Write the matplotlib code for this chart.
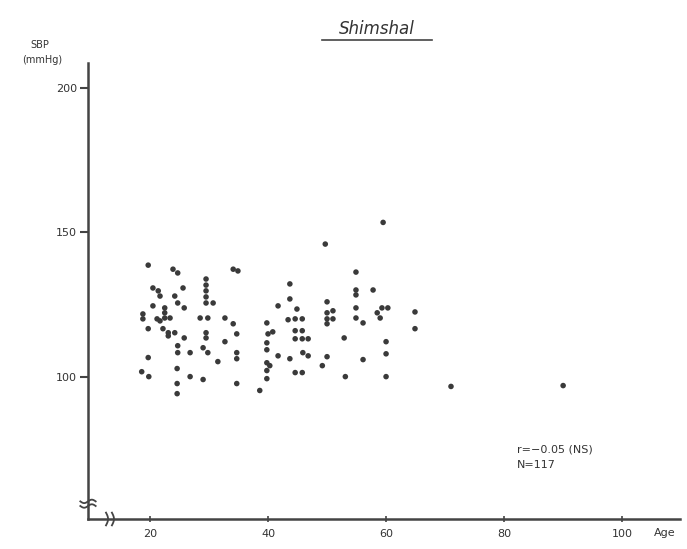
import matplotlib.pyplot as plt
import numpy as np

# age (years) and systolic blood pressure (mmHg)
age = [19.7, 20.5, 21.4, 21.7, 20.5, 18.8, 18.8, 19.7, 19.7, 18.6, 19.8,
       23.9, 24.7, 25.6, 24.2, 24.7, 25.8, 22.5, 22.5, 21.2, 21.7, 22.5,
       22.2, 23.1, 24.2, 23.1, 25.8, 24.7, 24.7, 26.8, 24.6, 26.8, 24.6, 24.6,
       29.5, 29.5, 29.5, 29.5, 29.5, 30.7, 28.5, 29.8, 32.7, 34.1, 29.5, 29.5,
       32.7, 29.0, 29.8, 31.5, 29.0,
       34.1, 34.9, 34.7, 34.7, 34.7, 34.7,
       38.6, 39.8, 40.0, 40.8, 39.8, 39.8, 39.8, 40.3, 39.8, 39.8, 41.7, 41.7,
       43.7, 43.7, 44.9, 43.4, 44.6, 45.8, 44.6, 45.8, 44.6, 45.8, 46.8, 43.7,
       45.9, 46.8, 44.6, 45.8,
       49.7, 50.0, 50.0, 50.0, 50.0, 51.0, 51.0, 50.0, 49.2,
       52.9, 53.1, 54.9, 54.9, 54.9, 54.9, 54.9, 56.1, 56.1, 57.8,
       59.5, 58.5, 59.3, 60.3, 59.0, 60.0, 60.0, 60.0,
       64.9, 64.9, 71.0, 90.0, 23.4]
sbp = [138.6, 130.7, 129.7, 127.9, 124.5, 121.7, 120.0, 116.6, 106.6, 101.7, 100.0,
       137.2, 135.9, 130.7, 127.9, 125.5, 123.8, 123.8, 122.1, 120.0, 119.3, 120.3,
       116.6, 115.2, 115.2, 114.1, 113.4, 110.7, 108.3, 108.3, 102.8, 100.0, 97.6, 94.1,
       133.8, 131.7, 129.7, 127.6, 125.5, 125.5, 120.3, 120.3, 120.3, 118.3, 115.2, 113.4,
       112.1, 110.0, 108.3, 105.2, 99.0,
       137.2, 136.6, 114.8, 108.3, 106.2, 97.6,
       95.2, 118.6, 114.8, 115.5, 111.7, 109.3, 104.8, 103.8, 102.1, 99.3, 124.5, 107.2,
       132.1, 126.9, 123.4, 119.7, 120.0, 120.0, 115.9, 115.9, 113.1, 113.1, 113.1, 106.2,
       108.3, 107.2, 101.4, 101.4,
       145.9, 125.9, 122.1, 120.0, 118.3, 122.8, 120.0, 106.9, 103.8,
       113.4, 100.0, 136.2, 130.0, 128.3, 123.8, 120.3, 118.6, 105.9, 130.0,
       153.4, 122.1, 123.8, 123.8, 120.3, 112.1, 107.9, 100.0,
       122.4, 116.6, 96.6, 96.9, 120.3]

xticks = [20, 40, 60, 80, 100]
yticks = [100, 150, 200]

W, H = 687, 549
fig = plt.figure(figsize=(W / 100, H / 100), dpi=100)
ax = fig.add_axes([88 / W, 30 / H, 592 / W, 456 / H])

ax.scatter(age, sbp, s=16, color='#3a3a3a', edgecolors='none', zorder=3)

ax.set_xlim(9.5, 109.8)
ax.set_ylim(50.7, 208.6)
for s in ['top', 'right']:
    ax.spines[s].set_visible(False)
for s in ['left', 'bottom']:
    ax.spines[s].set_linewidth(1.8)
    ax.spines[s].set_color('#444444')

ax.set_yticks(yticks)
ax.set_xticks(xticks)
ax.tick_params(axis='y', direction='out', length=6, width=1.5, color='#444444',
               labelsize=8, pad=2, labelcolor='#333333')
ax.tick_params(axis='x', direction='inout', length=4, width=1.2, color='#444444',
               labelsize=8, pad=5, labelcolor='#333333')

# axis break marks
t = np.linspace(-1, 1, 20)
for dy in (0, 1.6):
    ax.plot(9.5 + 1.3 * t, 55.2 + dy + 0.6 * np.sin(t * np.pi), color='#444444',
            lw=1.3, clip_on=False, zorder=4)
for dx in (0, 1.0):
    ax.plot(12.9 + dx + 0.35 * np.sin((t + 1) * np.pi / 2) - 0.35, 50.7 + 2.2 * t,
            color='#444444', lw=1.3, clip_on=False, zorder=4)

fig.text(665 / W, 1 - 533 / H, 'Age', fontsize=8, color='#333333',
         ha='center', va='center')
fig.text(40 / W, 1 - 45 / H, 'SBP', fontsize=7, color='#333333',
         ha='center', va='center')
fig.text(42 / W, 1 - 60 / H, '(mmHg)', fontsize=7, color='#333333',
         ha='center', va='center')

fig.text(377 / W, 1 - 29 / H, 'Shimshal', fontsize=12, style='italic',
         color='#333333', ha='center', va='center')
fig.add_artist(plt.Line2D([322 / W, 432 / W], [1 - 40 / H, 1 - 40 / H],
                          color='#444444', lw=1.2))

fig.text(517 / W, 1 - 450 / H, 'r=\u22120.05 (NS)', fontsize=8,
         color='#333333', ha='left', va='center')
fig.text(517 / W, 1 - 465 / H, 'N=117', fontsize=8,
         color='#333333', ha='left', va='center')

fig.savefig('out.png', dpi=100, facecolor='white')
